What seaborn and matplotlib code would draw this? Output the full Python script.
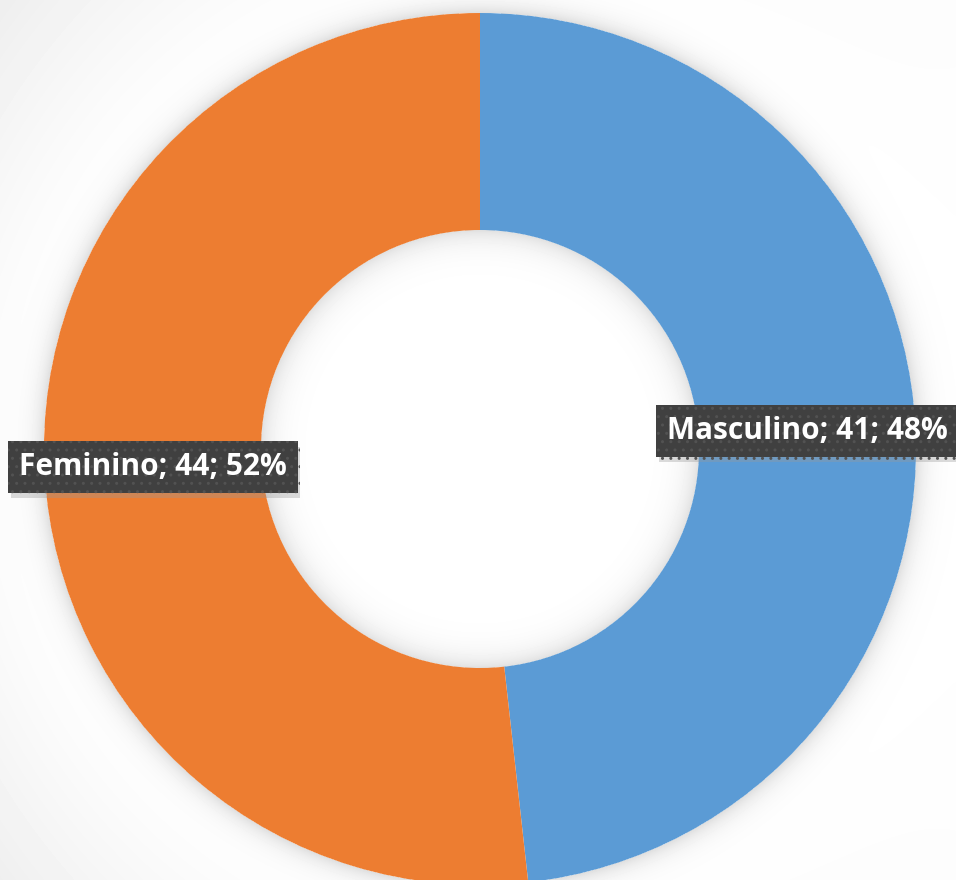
"""
Description: Donut chart of respondents by sex (Masculino / Feminino),
with Excel-style data labels (name; count; percent).
"""

import matplotlib
matplotlib.use('Agg')

import matplotlib.pyplot as plt
import matplotlib.patheffects as pe
import numpy as np
import seaborn as sns

# data
categories = ['Masculino', 'Feminino']
counts = [41, 44]
colors = ['#5B9BD5', '#ED7D31']

W, H = 956, 880
CX, CY = 480, 449          # centre of the ring, image coords
R_OUT, R_IN = 436, 219


def make_background():
    """
    Description: Light grey backdrop with a soft shadow around the ring.
    Returns:
        np.ndarray: grey values in [0, 1], shape (H, W).
    """
    yy, xx = np.mgrid[0:H, 0:W] + 0.5
    d = np.hypot(xx - CX, yy - CY)
    bg = 1 - 0.065 * np.clip((d - 450) / 200, 0, 1) * (1 - 0.85 * xx / W)
    outer = np.where(d > R_OUT, 0.13 * np.exp(-(d - R_OUT) / 11.0), 0)
    inner = np.where(d < R_IN, 0.12 * np.exp(-(R_IN - d) / 13.0), 0)
    return np.clip(bg - outer - inner, 0, 1)


def plot_donut(out='out.png'):
    sns.set_theme(style='white')
    plt.rcParams['font.family'] = ['Open Sans', 'DejaVu Sans']

    fig = plt.figure(figsize=(W / 100, H / 100), dpi=100)
    ax = fig.add_axes([0, 0, 1, 1])
    ax.imshow(make_background(), cmap='gray', vmin=0, vmax=1,
              extent=(0, W, 0, H), origin='upper', zorder=0,
              interpolation='bilinear')

    wedges, _ = ax.pie(counts, colors=colors, startangle=90, counterclock=False,
                       radius=R_OUT, center=(CX, H - CY),
                       wedgeprops=dict(width=R_OUT - R_IN, edgecolor='none',
                                       linewidth=0, zorder=2))

    total = float(sum(counts))
    r_mid = (R_OUT + R_IN) / 2.0
    for w, name, n in zip(wedges, categories, counts):
        ang = np.deg2rad((w.theta1 + w.theta2) / 2.0)
        x = CX + r_mid * np.cos(ang)
        y = H - CY + r_mid * np.sin(ang)
        label = '{}; {}; {:.0f}%'.format(name, n, n / total * 100)
        t = ax.text(x, y, label, ha='center', va='center', color='white',
                    fontsize=21.5, fontweight='bold', zorder=5,
                    bbox=dict(boxstyle='square,pad=0.36', fc='#404040',
                              ec='#525252', lw=0, hatch='..'))
        t.get_bbox_patch().set_path_effects(
            [pe.SimplePatchShadow(offset=(2, -4), shadow_rgbFace='#999999',
                                  alpha=0.35),
             pe.Normal()])

    ax.set_xlim(0, W)
    ax.set_ylim(0, H)
    ax.set_aspect('equal')
    ax.axis('off')
    fig.savefig(out, dpi=100)
    plt.close()


if __name__ == '__main__':
    plot_donut()
